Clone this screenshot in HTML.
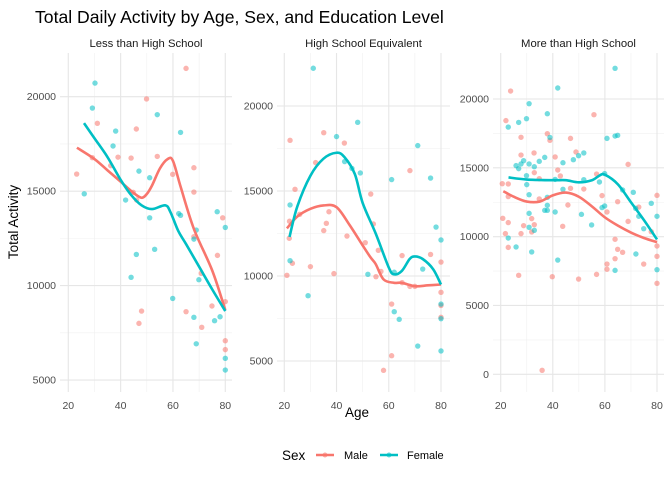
<!DOCTYPE html>
<html><head><meta charset="utf-8"><style>
body{margin:0;background:#fff;}
svg{display:block;font-family:"Liberation Sans",sans-serif;}
</style></head><body>
<svg id="chart" width="672" height="480" xmlns="http://www.w3.org/2000/svg">
<text x="35" y="23" font-size="17.6" fill="#000">Total Daily Activity by Age, Sex, and Education Level</text>
<text transform="translate(18,222) rotate(-90)" text-anchor="middle" font-size="13.5" fill="#000">Total Activity</text>
<text x="357" y="417" text-anchor="middle" font-size="13.5" fill="#000">Age</text>
<g>
<text x="282" y="460" font-size="13.5">Sex</text>
<g><line x1="316" y1="455" x2="334" y2="455" stroke="#F8766D" stroke-width="2.5"/><circle cx="325" cy="455" r="2.5" fill="#F8766D" opacity="0.6"/><text x="344" y="459" font-size="11">Male</text></g>
<g><line x1="380" y1="455" x2="398" y2="455" stroke="#00BFC4" stroke-width="2.5"/><circle cx="389" cy="455" r="2.5" fill="#00BFC4" opacity="0.6"/><text x="407" y="459" font-size="11">Female</text></g>
</g>
<g id="panels"></g>
</svg>
<script>
const facetTitles=["Less than High School","High School Equivalent","More than High School"];
const yTicks1=[5000,10000,15000,20000];
const yTicks2=[5000,10000,15000,20000];
const yTicks3=[0,5000,10000,15000,20000];
const xTicks=[20,40,60,80];
// Panel 1
const p1MaleAge=[23.2,29.2,31.1,36.2,39,44,46,44.8,46.1,48,47,49.9,54,59.9,65,68,68,68,65,71,70.8,74.9,77,79,80,80,80];
const p1MaleVal=[15906,16770,18590,16350,16800,16750,18290,14940,14530,8650,8000,19880,16840,15890,21500,16240,14950,12590,8620,7790,10650,8920,11600,13590,9150,7080,6610];
const p1FemAge=[30.2,29.2,26.1,38.1,37.1,41.9,47,51.1,44,46,51.1,53,54,62.9,62.2,62.9,59.9,68,68.9,69.9,68,68.9,75.9,78,76.9,80,80,80];
const p1FemVal=[20720,19400,14860,18180,17390,14530,16060,15710,10440,11650,13590,11920,19050,18110,13810,13720,9320,12460,12940,10310,8320,6920,8140,8350,13910,13080,6150,5530];
const p1MaleSmAge=[23.3,30,35,40,45,48,50,52,55,58,60,63,68,75,80];
const p1MaleSmVal=[17300,16700,16100,15500,14900,14650,14850,15300,16200,16700,16600,15200,13000,10800,8700];
const p1FemSmAge=[26,30,35,40,44,48,52,57,59,62,65,70,75,80];
const p1FemSmVal=[18600,17800,16800,15600,14800,14250,14050,14250,13900,12900,12200,11000,9800,8650];
// Panel 2
const p2MaleAge=[21,22.2,22,21.9,23.1,24.1,25.9,30,32,35.1,35.1,36.1,37.1,39,43,44,51,53.1,54.1,55.1,56,57,58,61.1,61.1,65.1,65.1,68.1,68.1,70,76,80,80,80,80];
const p2MaleVal=[10040,17980,13220,12220,10750,15100,13630,10550,16670,18430,12670,13100,13780,10140,17820,12350,11960,14820,13060,9960,11510,10270,4450,8350,5310,11200,9610,16200,9390,9390,11270,10820,9040,8270,7570];
const p2FemAge=[31.1,22.2,22.2,29.1,40,43.1,45.9,48.1,49.1,52,61.1,62.1,64,62.1,71.1,71.1,73,76,78.1,80,80,80,80];
const p2FemVal=[22220,14180,10900,8840,18200,16730,16330,19040,16060,10100,15670,10220,7450,7900,17670,5880,10410,15760,12880,12120,8350,7490,5590];
const p2MaleSmAge=[21,25,30,35,40,45,50,53,55,58,62,65,70,75,80];
const p2MaleSmVal=[12800,13500,13950,14150,14050,13000,11800,11100,10700,9800,9600,9600,9400,9450,9500];
const p2FemSmAge=[22,25,30,35,40,43,47,50,55,60,62,65,68,70,73,77,80];
const p2FemSmVal=[12300,14100,15900,16900,17250,17000,16000,14300,12500,10500,10100,10300,11000,11150,11000,10400,9500];
// Panel 3
const p3MaleAge=[20.6,22,22.9,22.9,21.8,22.9,20.8,22.9,23.8,27.8,27.8,26.9,27.8,28.8,31.9,32.8,32.9,32.9,31.9,34.8,34.8,35.9,37.9,38.9,39.8,40.9,41.9,42.9,43.8,45.8,46.8,46.8,48.9,49.9,51.9,55.8,56.8,56.8,58.9,60.8,60.8,60.8,63.9,63.9,64.9,64.9,66.8,68.9,68.9,73,74.9,77.8,80,80,80,80];
const p3MaleVal=[13850,18430,13830,12910,10220,9220,11330,11020,20580,17220,15930,7190,10220,10800,11310,16080,14650,10870,10340,14210,12740,290,17480,17000,7090,15790,14840,14410,10750,12300,13510,17140,16150,6920,13460,18860,14550,7260,12980,11790,8010,7630,9810,8400,12540,9080,8860,11110,15250,12150,8010,10360,13000,9320,8570,6610];
const p3FemAge=[22.9,22.9,25.9,25.9,26.9,26.9,27.8,28.8,29.9,30.9,29.9,30,30.9,30.9,30.9,30.9,32.9,32.9,31.9,34.8,36.9,37.9,37.9,37.9,37.9,36.9,38.9,41.9,40.9,40.9,41.9,43.9,43.9,47.9,49.9,51.9,51.9,51,54.9,57.9,59.9,58.9,59.9,60.8,63.9,63.9,64.9,63.9,66.8,70.9,71.8,73,71.9,74.9,77.8,80,80];
const p3FemVal=[17960,9900,9250,15160,18300,14940,15280,15520,18570,19660,14430,13780,15280,13050,11690,10680,15080,10460,8890,15470,15760,18930,12860,12280,11910,11910,17210,20800,14160,11790,8300,15370,13440,15590,15880,16080,14140,11620,10850,13970,14580,12110,12230,17140,22230,17310,17360,7550,13390,13220,12060,11480,8740,10580,12420,11480,7600];
const p3MaleSmAge=[21,25,30,35,40,45,50,55,60,65,70,75,80];
const p3MaleSmVal=[13300,12900,12550,12550,13000,13200,12900,12200,11400,10800,10300,9900,9600];
const p3FemSmAge=[23,30,40,45,50,55,58,60,65,70,75,80];
const p3FemSmVal=[14300,14150,14100,14100,13950,14100,14450,14500,13800,12500,11200,9800];

const NS="http://www.w3.org/2000/svg";
const root=document.getElementById('panels');
function mk(tag,attrs,parent){const e=document.createElementNS(NS,tag);for(const k in attrs)e.setAttribute(k,attrs[k]);parent.appendChild(e);return e;}
const panels=[
 {x0:60,x1:232,ax20:68.3,ax80:225.3,yRef:20000,yRefPx:96.7,ppu:0.018889,ticks:yTicks1,minor:[7500,12500,17500],
  m:[p1MaleAge,p1MaleVal],f:[p1FemAge,p1FemVal],ms:[p1MaleSmAge,p1MaleSmVal],fs:[p1FemSmAge,p1FemSmVal]},
 {x0:277,x1:450,ax20:284.3,ax80:441,yRef:20000,yRefPx:106,ppu:0.017,ticks:yTicks2,minor:[7500,12500,17500],
  m:[p2MaleAge,p2MaleVal],f:[p2FemAge,p2FemVal],ms:[p2MaleSmAge,p2MaleSmVal],fs:[p2FemSmAge,p2FemSmVal]},
 {x0:493,x1:664,ax20:500.7,ax80:657,yRef:20000,yRefPx:99,ppu:0.013765,ticks:yTicks3,minor:[2500,7500,12500,17500],
  m:[p3MaleAge,p3MaleVal],f:[p3FemAge,p3FemVal],ms:[p3MaleSmAge,p3MaleSmVal],fs:[p3FemSmAge,p3FemSmVal]}
];
const TOP=53,BOT=392;
panels.forEach((p,i)=>{
 const g=mk('g',{},root);
 
 
 const X=a=>p.ax20+(a-20)*(p.ax80-p.ax20)/60;
 const Y=v=>p.yRefPx+(p.yRef-v)*p.ppu;
 const t=mk('text',{x:(p.x0+p.x1)/2,y:47,'text-anchor':'middle','font-size':'11.3','fill':'#1a1a1a'},g);
 t.textContent=facetTitles[i];
 
 
 [30,50,70].forEach(a=>{const l=mk('line',{x1:X(a),x2:X(a),y1:TOP,y2:BOT,stroke:'#f0f0f0','stroke-width':0.6},g);});
 p.minor.forEach(v=>{const l=mk('line',{x1:p.x0,x2:p.x1,y1:Y(v),y2:Y(v),stroke:'#f0f0f0','stroke-width':0.6},g);});
 xTicks.forEach(a=>{
  const l=mk('line',{x1:X(a),x2:X(a),y1:TOP,y2:BOT,stroke:'#e6e6e6','stroke-width':1.1},g);
  
  
  const tx=mk('text',{x:X(a),y:409,'text-anchor':'middle','font-size':'10.5',fill:'#4d4d4d'},g);
  tx.textContent=a;
  
  
 });
 p.ticks.forEach(v=>{
  const l=mk('line',{x1:p.x0,x2:p.x1,y1:Y(v),y2:Y(v),stroke:'#e6e6e6','stroke-width':1.1},g);
  
  
  const tx=mk('text',{x:p.x0-4,y:Y(v)+3.5,'text-anchor':'end','font-size':'10.5',fill:'#4d4d4d'},g);
  tx.textContent=v;
  
  
 });
 [[p.m,'#F8766D','male'],[p.f,'#00BFC4','female']].forEach(([d,c,n])=>{
  d[0].forEach((a,k)=>{
   const pt=mk('circle',{cx:X(a),cy:Y(d[1][k]),r:2.7,fill:c,'fill-opacity':0.55},g);
   
   
  });
 });
 [[p.ms,'#F8766D','male'],[p.fs,'#00BFC4','female']].forEach(([d,c,n])=>{
  const pts=d[0].map((a,k)=>[X(a),Y(d[1][k])]);
  let s='M'+pts[0][0]+','+pts[0][1];
  for(let k=0;k<pts.length-1;k++){
   const p0=pts[k-1]||pts[k],p1=pts[k],p2=pts[k+1],p3=pts[k+2]||p2;
   s+=' C'+(p1[0]+(p2[0]-p0[0])/6)+','+(p1[1]+(p2[1]-p0[1])/6)+' '+(p2[0]-(p3[0]-p1[0])/6)+','+(p2[1]-(p3[1]-p1[1])/6)+' '+p2[0]+','+p2[1];
  }
  const pa=mk('path',{d:s,fill:'none',stroke:c,'stroke-width':2.6},g);
  
  
 });
});
</script>
</body></html>
